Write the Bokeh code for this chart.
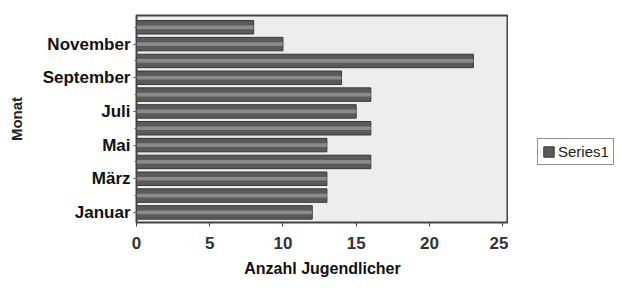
from bokeh.plotting import figure
from bokeh.models import ColumnDataSource, FixedTicker, Legend, LegendItem, Range1d
from bokeh.layouts import row
from bokeh.embed import file_html
from bokeh.resources import INLINE

months = ["Januar", "Februar", "März", "April", "Mai", "Juni", "Juli",
          "August", "September", "Oktober", "November", "Dezember"]
values = [12, 13, 13, 16, 13, 16, 15, 16, 14, 23, 10, 8]
x_ticks = [0, 5, 10, 15, 20, 25]
y_tick_positions = [1, 3, 5, 7, 9, 11]
series_name = "Series1"
x_title = "Anzahl Jugendlicher"
y_title = "Monat"

pos = list(range(1, len(months) + 1))
src = ColumnDataSource(dict(y=pos, v=values, m=months))

FONT = "Liberation Sans"
BAR_FILL = "#5a5a5a"
BAR_LINE = "#363636"

p = figure(frame_width=372, frame_height=207,
           x_range=Range1d(0, 25.4), y_range=Range1d(0.4, 12.7),
           output_backend="svg", toolbar_location=None,
           min_border_left=136, min_border_right=0,
           min_border_top=15, min_border_bottom=58,
           background_fill_color="#ededed", border_fill_color="white")

main = p.hbar(y="y", right="v", left=0, height=0.8, source=src,
              fill_color=BAR_FILL, line_color=BAR_LINE, line_width=1)
p.hbar(y="y", right="v", left=0, height=0.22, source=src,
       fill_color="#969696", line_color=None, fill_alpha=0.8)

p.outline_line_color = "#444444"
p.outline_line_width = 2
p.xgrid.grid_line_color = None
p.ygrid.grid_line_color = None

xa = p.xaxis[0]
xa.ticker = FixedTicker(ticks=x_ticks)
xa.minor_tick_line_color = None
xa.major_tick_out = 4
xa.major_tick_in = 0
xa.major_label_standoff = 10
xa.axis_line_color = "#444444"
xa.major_tick_line_color = "#444444"
xa.major_label_text_font = FONT
xa.major_label_text_font_style = "bold"
xa.major_label_text_font_size = "17px"
xa.major_label_text_color = "#333333"
xa.axis_label = x_title
xa.axis_label_text_font = FONT
xa.axis_label_text_font_style = "bold"
xa.axis_label_text_font_size = "16px"
xa.axis_label_text_color = "#111111"
xa.axis_label_standoff = 8

ya = p.yaxis[0]
ya.ticker = FixedTicker(ticks=y_tick_positions, minor_ticks=pos)
ya.major_label_overrides = {t: months[t - 1] for t in y_tick_positions}
ya.major_tick_out = 3
ya.major_tick_in = 0
ya.minor_tick_out = 2
ya.minor_tick_in = 0
ya.major_label_standoff = 3
ya.axis_line_color = "#444444"
ya.major_tick_line_color = "#444444"
ya.minor_tick_line_color = "#666666"
ya.major_label_text_font = FONT
ya.major_label_text_font_style = "bold"
ya.major_label_text_font_size = "17px"
ya.major_label_text_color = "#111111"
ya.axis_label = y_title
ya.axis_label_text_font = FONT
ya.axis_label_text_font_style = "bold"
ya.axis_label_text_font_size = "15px"
ya.axis_label_text_color = "#222222"
ya.axis_label_standoff = 15

# side panel carrying the legend
p2 = figure(width=106, height=280, x_range=Range1d(0, 1), y_range=Range1d(0, 1),
            output_backend="svg", toolbar_location=None,
            x_axis_location=None, y_axis_location=None,
            min_border_left=0, min_border_right=0, min_border_top=0,
            min_border_bottom=0, outline_line_color=None,
            background_fill_color="white", border_fill_color="white")
p2.xgrid.grid_line_color = None
p2.ygrid.grid_line_color = None
proxy = p2.hbar(y="y", right="v", left=0, height=0.8, source=src,
                fill_color=BAR_FILL, line_color=BAR_LINE, line_width=1)
proxy.visible = False

legend = Legend(items=[LegendItem(label=series_name, renderers=[proxy])],
                location=(29, 57), orientation="vertical",
                glyph_width=13, glyph_height=13, padding=4, margin=0,
                spacing=0, label_standoff=3, label_height=16,
                label_text_font=FONT, label_text_font_size="15px",
                label_text_color="#222222",
                inactive_fill_alpha=0.0,
                border_line_color="#222222", border_line_width=1.5,
                background_fill_color="white", background_fill_alpha=1)
p2.add_layout(legend, "center")

layout = row(p, p2)
open("out.html", "w").write(file_html(layout, INLINE))
